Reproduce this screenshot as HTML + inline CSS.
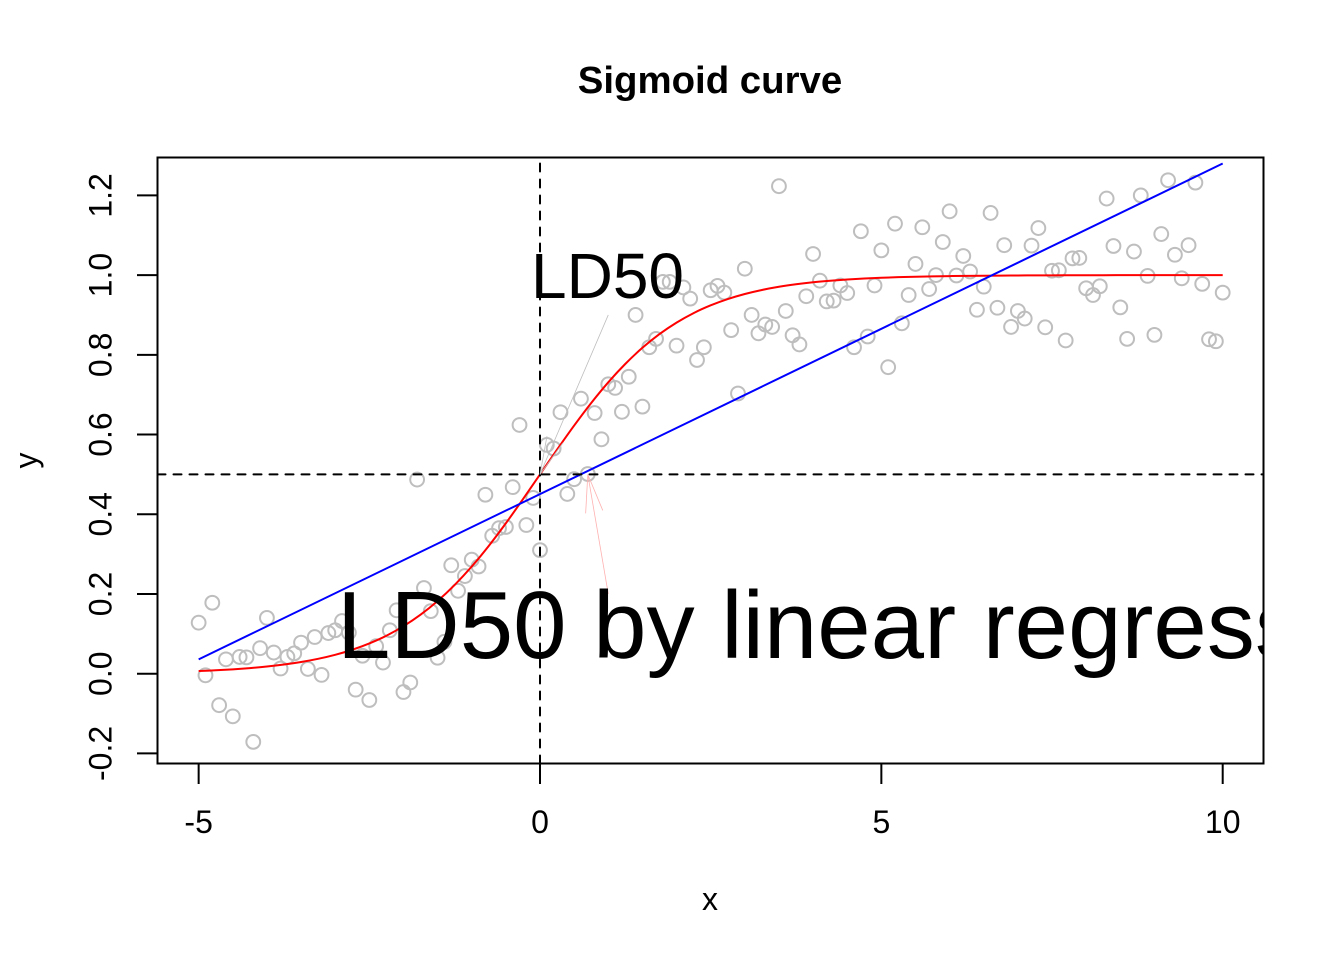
<!DOCTYPE html>
<html lang="en">
<head>
<meta charset="utf-8">
<title>Sigmoid curve</title>
<style>
html,body{margin:0;padding:0;background:#fff;}
svg{display:block;font-family:"Liberation Sans",Arial,sans-serif;}
</style>
</head>
<body>
<svg id="chart" xmlns="http://www.w3.org/2000/svg" width="1344" height="960" viewBox="0 0 1344 960">
  <defs>
    <clipPath id="plot-clip"><rect x="157.5" y="157.5" width="1106" height="606"/></clipPath>
  </defs>
  <rect x="0" y="0" width="1344" height="960" fill="#ffffff"/>
  <g id="points"></g>
  <g id="lines" clip-path="url(#plot-clip)"></g>
  <g id="annotations" clip-path="url(#plot-clip)"></g>
  <g id="axes"></g>
  <rect x="157.5" y="157.5" width="1106" height="606" fill="none" stroke="#000" stroke-width="2"/>
  <text x="710" y="93" font-size="38.4" font-weight="bold" text-anchor="middle">Sigmoid curve</text>
  <text x="710" y="910" font-size="32" text-anchor="middle">x</text>
  <text x="37" y="460.5" font-size="32" text-anchor="middle" transform="rotate(-90 37 460.5)">y</text>
</svg>
<script>
const xTicks = [-5, 0, 5, 10];
const xTickLabels = ["-5", "0", "5", "10"];
const yTicks = [-0.2, 0, 0.2, 0.4, 0.6, 0.8, 1, 1.2];
const yTickLabels = ["-0.2", "0.0", "0.2", "0.4", "0.6", "0.8", "1.0", "1.2"];
const pointStartX = -5;
const pointStepX = 0.1;
const pointY = [
0.128,-0.004,0.178,-0.079,0.036,-0.107,0.042,0.041,-0.171,0.064,
0.140,0.053,0.013,0.042,0.051,0.078,0.012,0.092,-0.003,0.102,
0.109,0.132,0.103,-0.040,0.045,-0.066,0.069,0.028,0.109,0.159,
-0.046,-0.022,0.487,0.215,0.157,0.040,0.080,0.272,0.208,0.245,
0.286,0.269,0.449,0.346,0.365,0.368,0.468,0.624,0.373,0.441,
0.310,0.574,0.565,0.656,0.451,0.488,0.690,0.501,0.654,0.588,
0.726,0.717,0.657,0.745,0.900,0.670,0.819,0.840,0.983,0.983,
0.823,0.969,0.941,0.787,0.819,0.962,0.973,0.956,0.862,0.703,
1.016,0.900,0.854,0.876,0.870,1.223,0.910,0.849,0.826,0.947,
1.053,0.986,0.934,0.936,0.974,0.955,0.819,1.110,0.846,0.974,
1.062,0.769,1.129,0.879,0.950,1.028,1.120,0.965,1.000,1.083,
1.160,0.999,1.048,1.009,0.913,0.971,1.156,0.918,1.075,0.870,
0.910,0.891,1.074,1.118,0.869,1.011,1.012,0.836,1.042,1.043,
0.967,0.950,0.972,1.192,1.073,0.919,0.840,1.059,1.200,0.998,
0.850,1.103,1.238,1.051,0.992,1.075,1.232,0.978,0.839,0.834,0.956];
const curveStartX = -5;
const curveStepX = 0.25;
const curveY = [
.0067,.0086,.0110,.0141,.0180,.0230,.0293,.0373,.0474,.0601,
.0759,.0953,.1192,.1480,.1824,.2227,.2689,.3208,.3775,.4378,
.5,.5622,.6225,.6792,.7311,.7773,.8176,.8520,.8808,.9047,
.9241,.9399,.9526,.9627,.9707,.9770,.9820,.9859,.9890,.9914,
.9933,.9948,.9959,.9968,.9975,.9981,.9985,.9988,.9991,.9993,
.9994,.9996,.9997,.9997,.9998,.9998,.9999,.9999,.9999,.9999,1.0];
const lineX = [-5, 10];
const lineY = [0.036, 1.28];
const refX = [0];
const refY = [0.5];
const arrowFromX = [1, 1];
const arrowFromY = [0.9, 0.2];
const arrowToX = [0, 0.7];
const arrowToY = [0.5, 0.5];
const arrowNames = ["ld50-arrow", "ld50-regression-arrow"];
const arrowColors = ["#bebebe", "#ffb0b0"];

const NS = "http://www.w3.org/2000/svg";
function sx(v){ return 540 + 68.27 * v; }
function sy(v){ return 673.7 - 398.6 * v; }
function make(tag, parent, attrs){
  const el = document.createElementNS(NS, tag);
  for (const k in attrs) el.setAttribute(k, attrs[k]);
  parent.appendChild(el);
  return el;
}
const pointsG = document.getElementById("points");
const linesG = document.getElementById("lines");
const annG = document.getElementById("annotations");
const axesG = document.getElementById("axes");

pointY.forEach(function(v, i){
  const c = make("circle", pointsG, {cx: sx(pointStartX + i * pointStepX), cy: sy(v), r: 6.9, fill: "none", stroke: "#bebebe", "stroke-width": 2});
  
  
});

const cp = curveY.map(function(v, i){ return [sx(curveStartX + i * curveStepX), sy(v)]; });
let curveD = "M" + cp[0][0] + " " + cp[0][1];
for (let i = 0; i < cp.length - 1; i++) {
  const p0 = cp[Math.max(i - 1, 0)], p1 = cp[i], p2 = cp[i + 1], p3 = cp[Math.min(i + 2, cp.length - 1)];
  curveD += "C" + (p1[0] + (p2[0] - p0[0]) / 6) + " " + (p1[1] + (p2[1] - p0[1]) / 6) + " " +
    (p2[0] - (p3[0] - p1[0]) / 6) + " " + (p2[1] - (p3[1] - p1[1]) / 6) + " " + p2[0] + " " + p2[1];
}
const red = make("path", linesG, {d: curveD, fill: "none", stroke: "#ff0000", "stroke-width": 2, "stroke-linejoin": "round"});



const bluePts = lineX.map(function(v, i){ return sx(v) + "," + sy(lineY[i]); }).join(" ");
const blue = make("polyline", linesG, {points: bluePts, fill: "none", stroke: "#0000ff", "stroke-width": 2});



refX.forEach(function(v){
  const l = make("line", linesG, {x1: sx(v), x2: sx(v), y1: 763.5, y2: 157.5, stroke: "#000", "stroke-width": 2, "stroke-dasharray": "8 8", "stroke-linecap": "round"});
  
  
});
refY.forEach(function(v){
  const l = make("line", linesG, {x1: 157.5, x2: 1263.5, y1: sy(v), y2: sy(v), stroke: "#000", "stroke-width": 2, "stroke-dasharray": "8 8", "stroke-linecap": "round"});
  
  
});

arrowFromX.forEach(function(v, i){
  const x0 = sx(v), y0 = sy(arrowFromY[i]), x1 = sx(arrowToX[i]), y1 = sy(arrowToY[i]);
  const ang = Math.atan2(y0 - y1, x0 - x1), len = 39, spread = Math.PI / 14;
  const d = "M" + x0 + " " + y0 + "L" + x1 + " " + y1 +
    "M" + (x1 + len * Math.cos(ang - spread)) + " " + (y1 + len * Math.sin(ang - spread)) + "L" + x1 + " " + y1 +
    "L" + (x1 + len * Math.cos(ang + spread)) + " " + (y1 + len * Math.sin(ang + spread));
  const a = make("path", annG, {d: d, fill: "none", stroke: arrowColors[i], "stroke-width": 0.8});
  
  
});

const t1 = make("text", annG, {x: 531, y: 298, "font-size": 64});


t1.textContent = "LD50";
const t2 = make("text", annG, {x: 337, y: 658, "font-size": 96});


t2.textContent = "LD50 by linear regression";

xTicks.forEach(function(v, i){
  const l = make("line", axesG, {x1: sx(v), x2: sx(v), y1: 763.5, y2: 784, stroke: "#000", "stroke-width": 2});
  
  
  const t = make("text", axesG, {x: sx(v), y: 833, "font-size": 32, "text-anchor": "middle"});
  
  
  t.textContent = xTickLabels[i];
});
yTicks.forEach(function(v, i){
  const y = sy(v);
  const l = make("line", axesG, {x1: 137, x2: 157.5, y1: y, y2: y, stroke: "#000", "stroke-width": 2});
  
  
  const t = make("text", axesG, {x: 111.5, y: y, "font-size": 32, "text-anchor": "middle", transform: "rotate(-90 111.5 " + y + ")"});
  
  
  t.textContent = yTickLabels[i];
});
</script>
</body>
</html>
